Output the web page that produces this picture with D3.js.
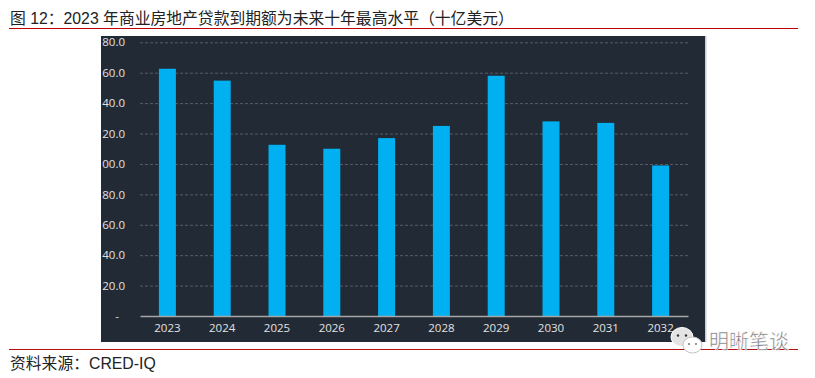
<!DOCTYPE html>
<html>
<head>
<meta charset="utf-8">
<script src="https://cdn.jsdelivr.net/npm/d3@7"></script>
<style>
  html, body { margin: 0; padding: 0; background: #fff; }
  svg { display: block; }
</style>
</head>
<body>
<div id="chart"></div>
<script>
const years = ["2023", "2024", "2025", "2026", "2027", "2028", "2029", "2030", "2031", "2032"];
const loans = [162.6, 154.8, 112.6, 110, 117, 125, 158, 128, 127, 99];
const yTicks = [0, 20, 40, 60, 80, 100, 120, 140, 160, 180];
const titleText = "图 12：2023 年商业房地产贷款到期额为未来十年最高水平（十亿美元）";
const sourceText = "资料来源：CRED-IQ";
const markText = "明晰笔谈";

const width = 815, height = 378;
const cjk = "'Liberation Sans', 'Noto Sans CJK SC', sans-serif";
const red = "#b81014";

const svg = d3.select("#chart").append("svg")
  .attr("width", width).attr("height", height);

// dark panel, the tick labels get cut by its left edge like in the source
const panel = { x: 101, y: 36, w: 604, h: 306 };
svg.append("clipPath").attr("id", "panelClip").append("rect")
  .attr("x", panel.x).attr("y", panel.y).attr("width", panel.w).attr("height", panel.h);

svg.append("rect")
  .attr("x", panel.x).attr("y", panel.y).attr("width", panel.w).attr("height", panel.h)
  .attr("fill", "#222a35");
svg.append("rect")
  .attr("x", panel.x + panel.w).attr("y", panel.y).attr("width", 1.5).attr("height", panel.h)
  .attr("fill", "#c9ccd1");

const x = d3.scaleBand().domain(years).range([140, 688]).paddingInner(0.69).paddingOuter(0.345);
const y = d3.scaleLinear().domain([0, 180]).range([316, 42.3]);

const g = svg.append("g").attr("clip-path", "url(#panelClip)");

// grid
g.append("g")
  .attr("transform", "translate(140,0)")
  .call(d3.axisRight(y).tickValues(yTicks.slice(1)).tickSize(548).tickFormat(""))
  .call((s) => s.select(".domain").remove())
  .call((s) => s.selectAll("line")
    .attr("stroke", "#585e67").attr("stroke-width", 1).attr("stroke-dasharray", "3,2"));

// bars
g.append("g").selectAll("rect")
  .data(loans)
  .join("rect")
  .attr("x", (d, i) => x(years[i]))
  .attr("y", (d) => y(d))
  .attr("width", x.bandwidth())
  .attr("height", (d) => y(0) - y(d))
  .attr("fill", "#00b0f0");

// y labels
g.append("g")
  .attr("transform", "translate(125,0)")
  .call(d3.axisLeft(y).tickValues(yTicks).tickSize(0).tickPadding(0)
    .tickFormat((d) => (d === 0 ? "-" : d3.format(".1f")(d))))
  .call((s) => s.select(".domain").remove())
  .call((s) => s.selectAll("text")
    .attr("fill", "#e2e2e2")
    .style("font-family", "'Open Sans', sans-serif")
    .style("font-size", "11.5px"))
  .call((s) => s.selectAll(".tick").filter((d) => d === 0).select("text")
    .attr("dx", "-6px"));

// x axis
g.append("g")
  .attr("transform", "translate(0,316)")
  .call(d3.axisBottom(x).tickSize(0).tickPadding(8).tickSizeOuter(0))
  .call((s) => s.select(".domain").attr("stroke", "#a6a6a6").attr("stroke-width", 1.5))
  .call((s) => s.selectAll("text")
    .attr("fill", "#e2e2e2")
    .style("font-family", "'Open Sans', sans-serif")
    .style("font-size", "11.5px"));

// heading and footer
svg.append("text").attr("x", 10).attr("y", 24)
  .attr("fill", "#222")
  .style("font-family", cjk).style("font-size", "15.8px")
  .text(titleText);
svg.append("line").attr("x1", 9).attr("x2", 798).attr("y1", 28.5).attr("y2", 28.5)
  .attr("stroke", "#c00000").attr("stroke-width", 1.2);

svg.append("line").attr("x1", 9).attr("x2", 798).attr("y1", 349.5).attr("y2", 349.5)
  .attr("stroke", red).attr("stroke-width", 1);
svg.append("text").attr("x", 10).attr("y", 369)
  .attr("fill", "#222")
  .style("font-family", cjk).style("font-size", "15.8px")
  .text(sourceText);

// watermark
const mark = svg.append("g");
mark.append("ellipse").attr("cx", 682).attr("cy", 337).attr("rx", 11).attr("ry", 9.5)
  .attr("fill", "#e4e4e4").attr("stroke", "#fff").attr("stroke-width", 1);
mark.append("ellipse").attr("cx", 692.5).attr("cy", 345).attr("rx", 9.5).attr("ry", 8)
  .attr("fill", "#fff").attr("stroke", "#c4c4c4").attr("stroke-width", 1);
[[678, 335.5], [686, 335.5]].forEach((p) => {
  mark.append("circle").attr("cx", p[0]).attr("cy", p[1]).attr("r", 1.2).attr("fill", "#333");
});
[[689, 344], [696, 344]].forEach((p) => {
  mark.append("circle").attr("cx", p[0]).attr("cy", p[1]).attr("r", 1).attr("fill", "#777");
});
mark.append("text").attr("x", 709).attr("y", 349)
  .attr("fill", "#777").attr("stroke", "#fff").attr("stroke-width", 0.5)
  .style("font-family", "'Noto Sans CJK SC', sans-serif").style("font-size", "20px")
  .text(markText);
</script>
</body>
</html>
